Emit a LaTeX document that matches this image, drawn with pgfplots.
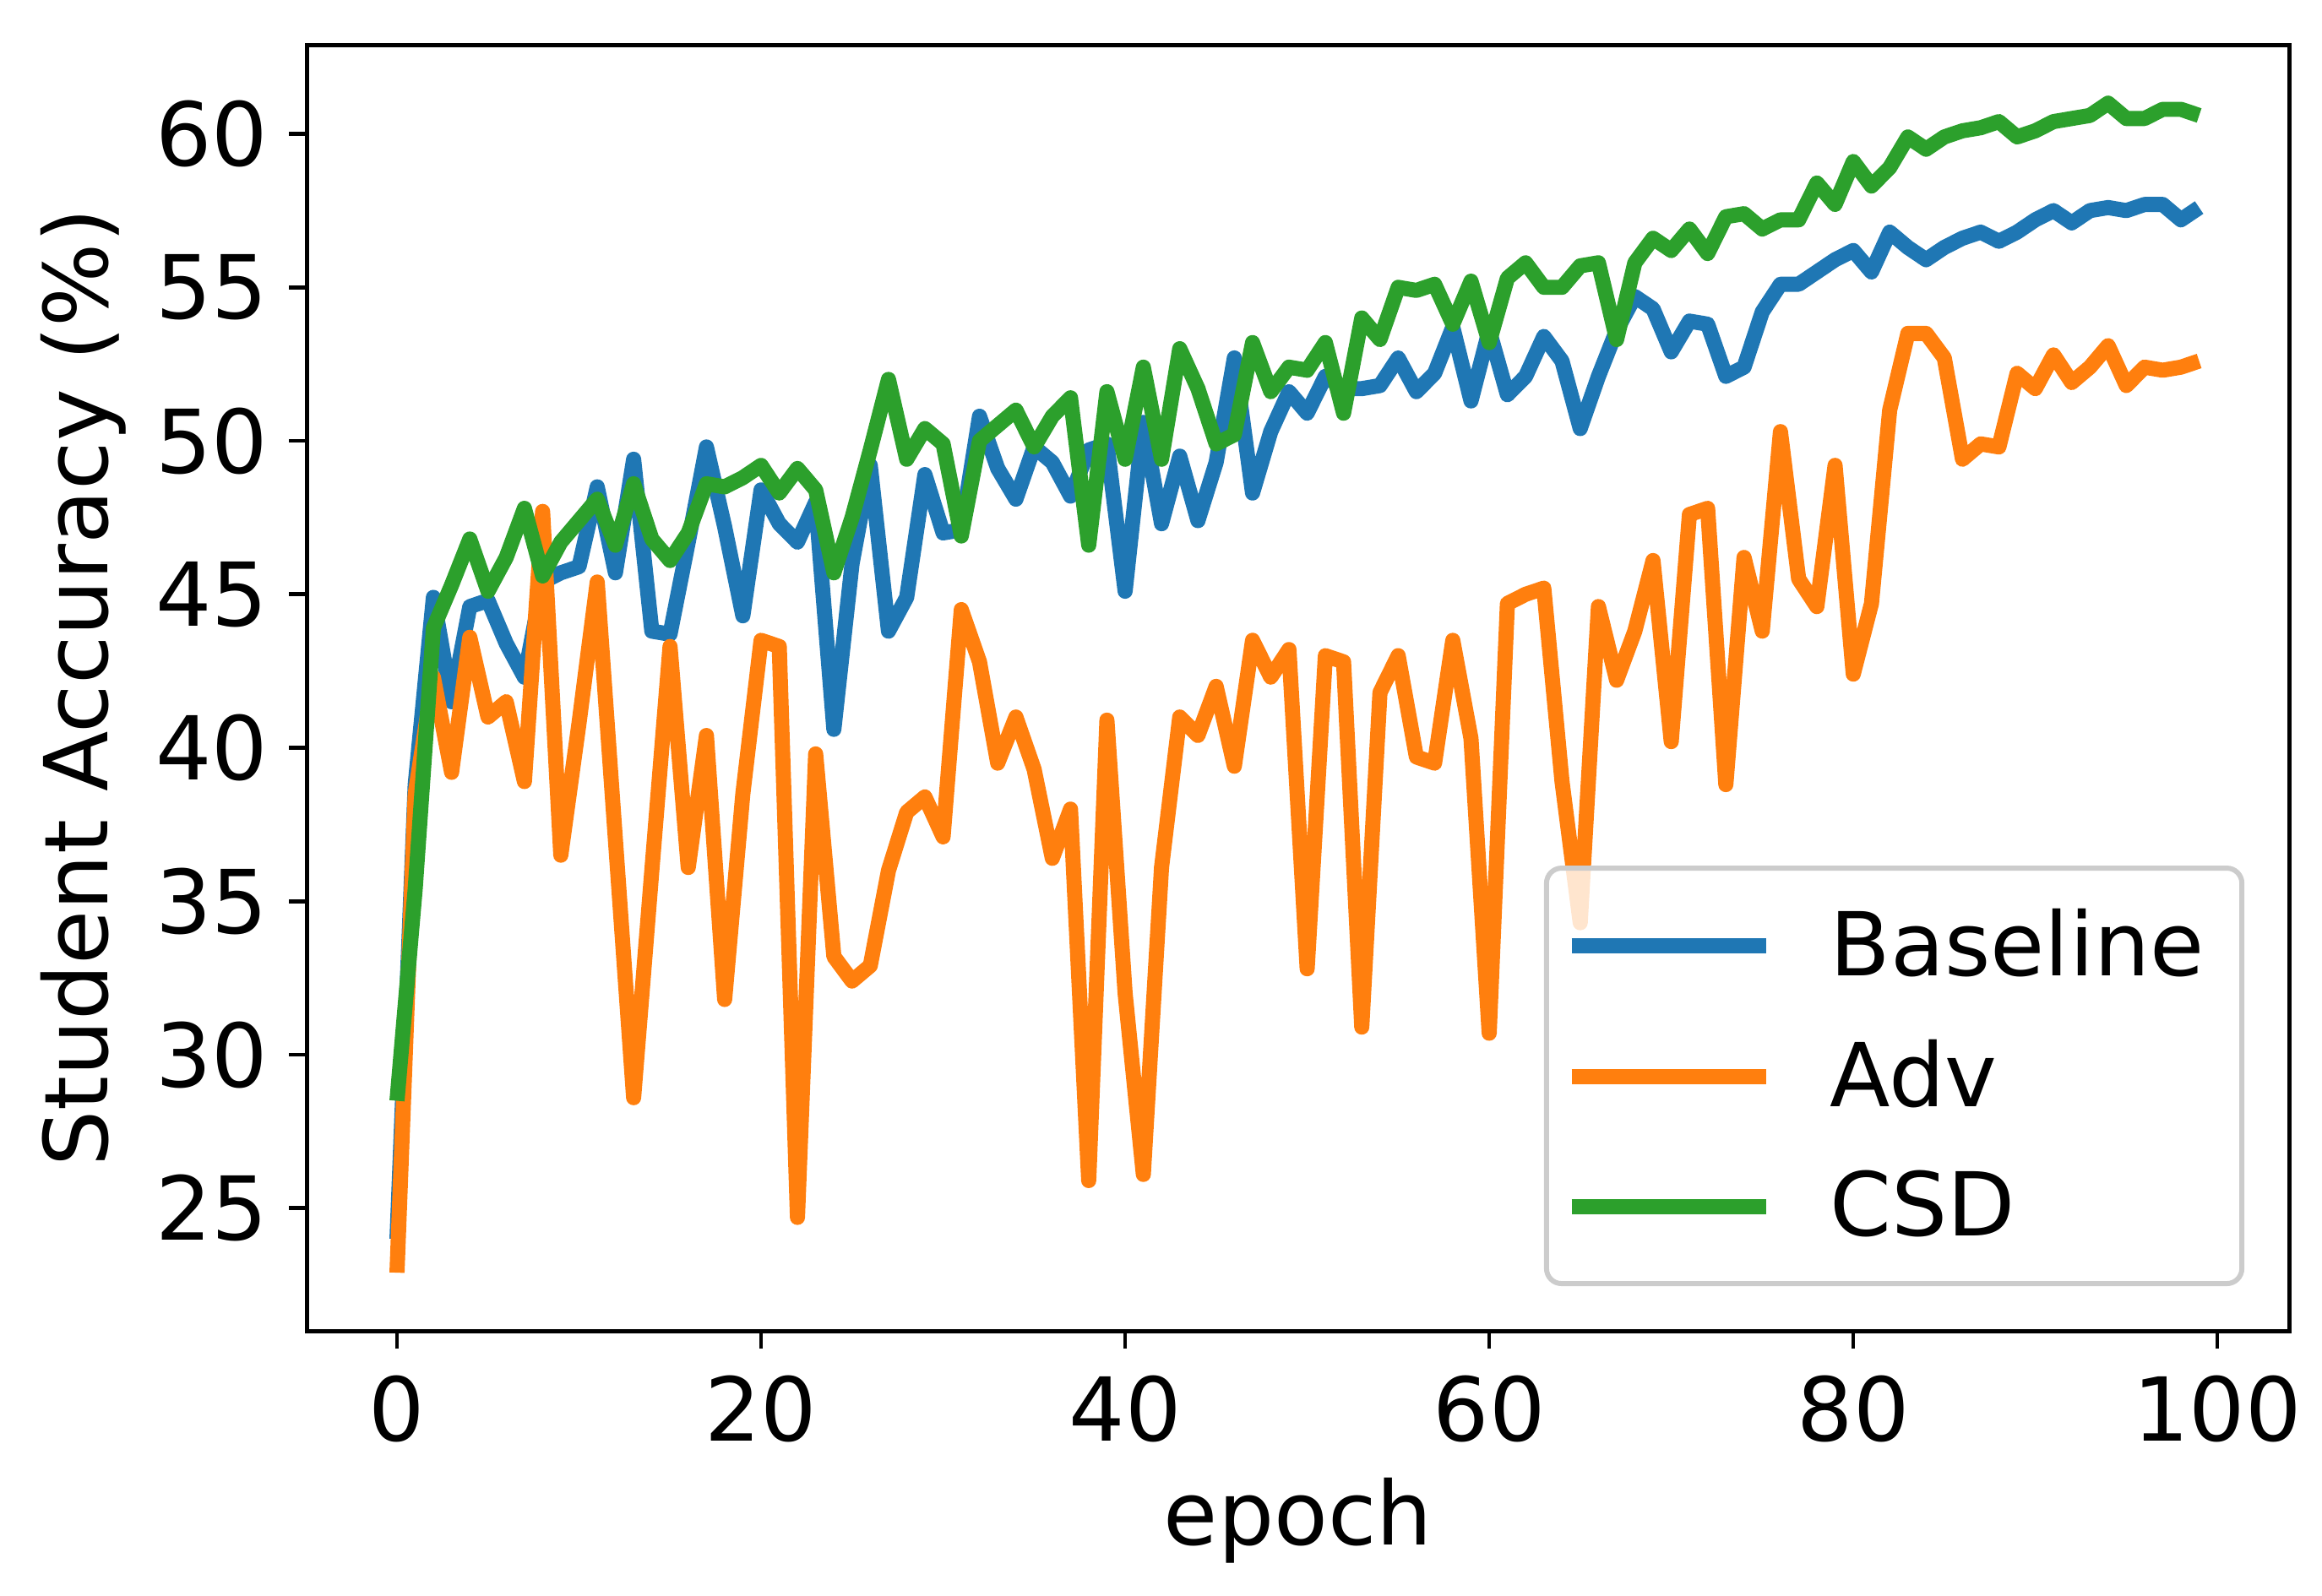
\documentclass[border=0pt]{standalone}
\usepackage{fontspec}
\setmainfont{DejaVu Sans}
\usepackage{pgfplots}
\usepackage{pgfplotstable}
\pgfplotsset{compat=1.18}
\definecolor{c0}{HTML}{1F77B4}
\definecolor{c1}{HTML}{FF7F0E}
\definecolor{c2}{HTML}{2CA02C}
\newcommand{\ff}{\fontsize{17.5}{21}\selectfont}

\pgfplotstableread{
x y
0 24.0
1 38.8
2 44.9
3 41.5
4 44.6
5 44.8
6 43.4
7 42.3
8 45.4
9 45.7
10 45.9
11 48.5
12 45.7
13 49.4
14 43.8
15 43.7
16 46.7
17 49.8
18 47.2
19 44.3
20 48.4
21 47.3
22 46.7
23 48.0
24 40.6
25 46.0
26 49.2
27 43.8
28 44.9
29 48.9
30 47.0
31 47.1
32 50.8
33 49.1
34 48.1
35 49.8
36 49.3
37 48.2
38 49.7
39 49.9
40 45.1
41 50.6
42 47.3
43 49.5
44 47.4
45 49.3
46 52.7
47 48.3
48 50.3
49 51.6
50 50.9
51 52.1
52 51.7
53 51.7
54 51.8
55 52.7
56 51.6
57 52.2
58 53.7
59 51.3
60 53.6
61 51.5
62 52.1
63 53.4
64 52.6
65 50.4
66 52.1
67 53.6
68 54.7
69 54.3
70 52.9
71 53.9
72 53.8
73 52.1
74 52.4
75 54.2
76 55.1
77 55.1
78 55.5
79 55.9
80 56.2
81 55.5
82 56.8
83 56.3
84 55.9
85 56.3
86 56.6
87 56.8
88 56.5
89 56.8
90 57.2
91 57.5
92 57.1
93 57.5
94 57.6
95 57.5
96 57.7
97 57.7
98 57.2
99 57.6
}\baseline

\pgfplotstableread{
x y
0 22.9
1 38.5
2 42.3
3 39.2
4 43.6
5 41.0
6 41.5
7 38.9
8 47.7
9 36.5
10 40.8
11 45.4
12 37.0
13 28.6
14 36.0
15 43.3
16 36.1
17 40.4
18 31.8
19 38.5
20 43.5
21 43.3
22 24.7
23 39.8
24 33.2
25 32.4
26 32.9
27 36.0
28 37.9
29 38.4
30 37.1
31 44.5
32 42.8
33 39.5
34 41.0
35 39.3
36 36.4
37 38.0
38 25.9
39 40.9
40 32.0
41 26.1
42 36.1
43 41.0
44 40.4
45 42.0
46 39.4
47 43.5
48 42.3
49 43.2
50 32.8
51 43.0
52 42.8
53 30.9
54 41.8
55 43.0
56 39.7
57 39.5
58 43.5
59 40.3
60 30.7
61 44.7
62 45.0
63 45.2
64 38.9
65 34.3
66 44.6
67 42.2
68 43.8
69 46.1
70 40.2
71 47.6
72 47.8
73 38.8
74 46.2
75 43.8
76 50.3
77 45.5
78 44.6
79 49.2
80 42.4
81 44.7
82 51.0
83 53.5
84 53.5
85 52.7
86 49.4
87 49.9
88 49.8
89 52.2
90 51.7
91 52.8
92 51.9
93 52.4
94 53.1
95 51.8
96 52.4
97 52.3
98 52.4
99 52.6
}\adv

\pgfplotstableread{
x y
0 28.5
1 35.4
2 43.9
3 45.3
4 46.8
5 45.1
6 46.2
7 47.8
8 45.6
9 46.7
10 47.4
11 48.1
12 46.6
13 48.6
14 46.8
15 46.1
16 47.0
17 48.6
18 48.5
19 48.8
20 49.2
21 48.3
22 49.1
23 48.4
24 45.7
25 47.5
26 49.7
27 52.0
28 49.4
29 50.4
30 49.9
31 46.9
32 50.0
33 50.5
34 51.0
35 49.8
36 50.8
37 51.4
38 46.6
39 51.6
40 49.4
41 52.4
42 49.4
43 53.0
44 51.7
45 49.9
46 50.2
47 53.2
48 51.6
49 52.4
50 52.3
51 53.2
52 50.9
53 54.0
54 53.3
55 55.0
56 54.9
57 55.1
58 53.8
59 55.2
60 53.2
61 55.3
62 55.8
63 55.0
64 55.0
65 55.7
66 55.8
67 53.3
68 55.8
69 56.6
70 56.2
71 56.9
72 56.1
73 57.3
74 57.4
75 56.9
76 57.2
77 57.2
78 58.4
79 57.7
80 59.1
81 58.3
82 58.9
83 59.9
84 59.5
85 59.9
86 60.1
87 60.2
88 60.4
89 59.9
90 60.1
91 60.4
92 60.5
93 60.6
94 61.0
95 60.5
96 60.5
97 60.8
98 60.8
99 60.6
}\csd

\begin{document}
\begin{tikzpicture}
\useasboundingbox (-60.9pt,-52.6pt) rectangle (399.9pt,264.2pt);
\begin{axis}[
  at={(0pt,0pt)}, anchor=south west,
  scale only axis, width=393.4pt, height=255.3pt,
  xmin=-4.95, xmax=103.95, ymin=21.0, ymax=62.9,
  xtick={0,20,40,60,80,100}, ytick={25,30,35,40,45,50,55,60},
  tick align=outside, major tick length=3.5pt,
  xtick pos=left, ytick pos=left,
  axis line style={line width=0.8pt, black},
  every tick/.style={black, line width=0.8pt},
  /pgf/number format/assume math mode=true,
  tick label style={font=\ff},
  xticklabel style={inner sep=0pt, yshift=-5.2pt},
  yticklabel style={inner sep=0pt, xshift=-4pt},
  every axis x label/.style={at={(axis description cs:0.5,-0.1477)}, anchor=center, font=\ff},
  every axis y label/.style={at={(axis description cs:-0.1127,0.5)}, rotate=90, anchor=center, font=\ff},
  xlabel={epoch},
  ylabel={Student Accuracy (\%)},
  legend cell align=left,
  legend image code/.code={%
    \begin{pgfinterruptboundingbox}\draw[#1, rounded corners=0pt] (-2.5pt,0pt) -- (36.1pt,0pt);\end{pgfinterruptboundingbox}%
    \pgfpathrectangle{\pgfpoint{0pt}{-1.5pt}}{\pgfpoint{36.1pt}{3pt}}\pgfusepath{use as bounding box}},
  legend style={at={(1,0)}, anchor=south east, xshift=-8.9pt, yshift=8.9pt,
    draw=black!20, line width=1pt, fill=white, fill opacity=0.8, text opacity=1,
    rounded corners=3pt, inner xsep=7.5pt, inner ysep=8pt,
    row sep=11.2pt, column sep=12.7pt, nodes={inner sep=0pt, font=\ff}},
]
\addplot[c0, line width=3pt, line join=round] table {\baseline};
\addlegendentry{Baseline}
\addplot[c1, line width=3pt, line join=round] table {\adv};
\addlegendentry{Adv}
\addplot[c2, line width=3pt, line join=round] table {\csd};
\addlegendentry{CSD}
\end{axis}
\end{tikzpicture}
\end{document}
